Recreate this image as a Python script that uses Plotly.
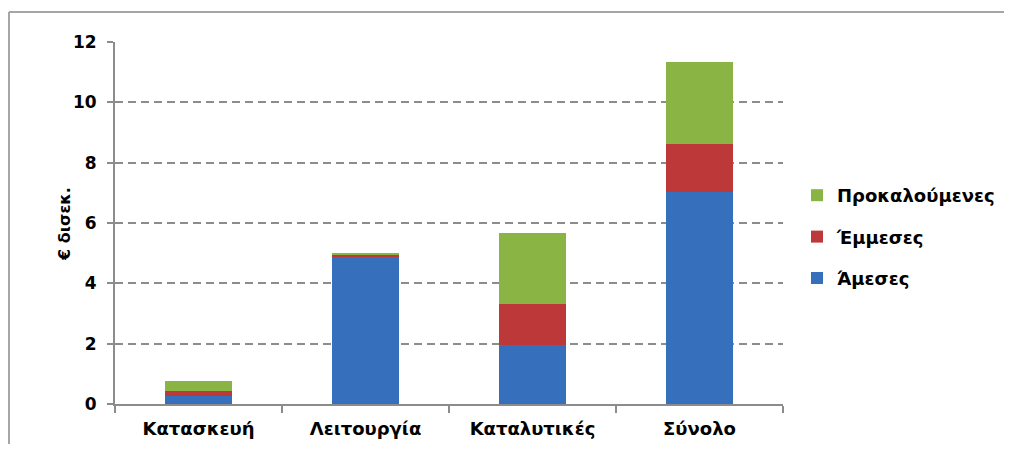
import plotly.graph_objects as go

categories = ["Κατασκευή", "Λειτουργία", "Καταλυτικές", "Σύνολο"]
amesses = [0.26, 4.90, 1.95, 7.04]
emmesses = [0.16, 0.04, 1.36, 1.59]
prokaloumenes = [0.34, 0.08, 2.35, 2.72]
series_names = ["Άμεσες", "Έμμεσες", "Προκαλούμενες"]
y_ticks = [0, 2, 4, 6, 8, 10, 12]
y_title = "€ δισεκ."

colors = ["#3670bd", "#bd3838", "#8ab443"]
FONT = "DejaVu Sans, Liberation Sans, Arial, sans-serif"

fig = go.Figure()
for i, (name, vals) in enumerate(zip(series_names, [amesses, emmesses, prokaloumenes])):
    fig.add_trace(go.Bar(
        x=categories, y=vals, name="<b>" + name + "</b>",
        marker=dict(color=colors[i], line=dict(width=0)),
        width=0.4, legendgroup=name, legendrank=10 - i,
    ))

# page body has an 8px margin, so the figure is sized to fit inside the window
OFF = 8
W, H = 1012 - 2 * OFF, 452 - 2 * OFF
PL, PR, PT, PB = 115, 783, 42, 404  # plot area in screen pixels
L, R, T, B = PL - OFF, W - (PR - OFF), PT - OFF, H - (PB - OFF)
pw, ph = PR - PL, PB - PT

def px_x(sx):
    return (sx - PL) / pw

def px_y(sy):
    return (PB - sy) / ph

fig.update_layout(
    width=W, height=H,
    margin=dict(l=L, r=R, t=T, b=B, pad=0, autoexpand=False),
    barmode="stack",
    plot_bgcolor="white", paper_bgcolor="white",
    font=dict(family=FONT, size=17, color="#000000"),
    showlegend=True,
    legend=dict(
        x=px_x(797), xanchor="left", y=px_y(177), yanchor="top",
        traceorder="grouped", tracegroupgap=15,
        font=dict(family=FONT, size=18, color="#000"),
        itemwidth=30, bgcolor="rgba(0,0,0,0)",
    ),
    xaxis=dict(
        type="category", range=[-0.5, 3.5], automargin=False,
        showline=True, linecolor="#8c8c8c", linewidth=2,
        ticks="outside", tickson="boundaries", ticklen=7, tickcolor="#8c8c8c", tickwidth=2,
        tickfont=dict(family=FONT, size=18, weight=700),
        ticklabelstandoff=7,
        showgrid=False, zeroline=False,
    ),
    yaxis=dict(
        range=[0, 12], tickvals=y_ticks, automargin=False,
        showline=True, linecolor="#8c8c8c", linewidth=2,
        ticks="outside", ticklen=6, tickcolor="#8c8c8c", tickwidth=2,
        tickfont=dict(family=FONT, size=17, weight=700),
        ticklabelstandoff=7,
        showgrid=True, gridcolor="#8c8c8c", gridwidth=2, griddash="8px,5px",
        zeroline=False,
    ),
)

fig.add_annotation(
    text="<b>" + y_title + "</b>", textangle=-90, showarrow=False,
    xref="paper", yref="paper", x=px_x(65), y=px_y(224),
    xanchor="center", yanchor="middle",
    font=dict(family=FONT, size=16, color="#000"),
)

# outer chart-area frame (top and left edges visible)
fig.add_shape(type="line", xref="paper", yref="paper",
              x0=px_x(9), x1=px_x(9), y0=px_y(460), y1=px_y(12),
              line=dict(color="#a6a6a6", width=2))
fig.add_shape(type="line", xref="paper", yref="paper",
              x0=px_x(9), x1=px_x(1020), y0=px_y(12), y1=px_y(12),
              line=dict(color="#a6a6a6", width=2))

fig.write_html("out.html")
